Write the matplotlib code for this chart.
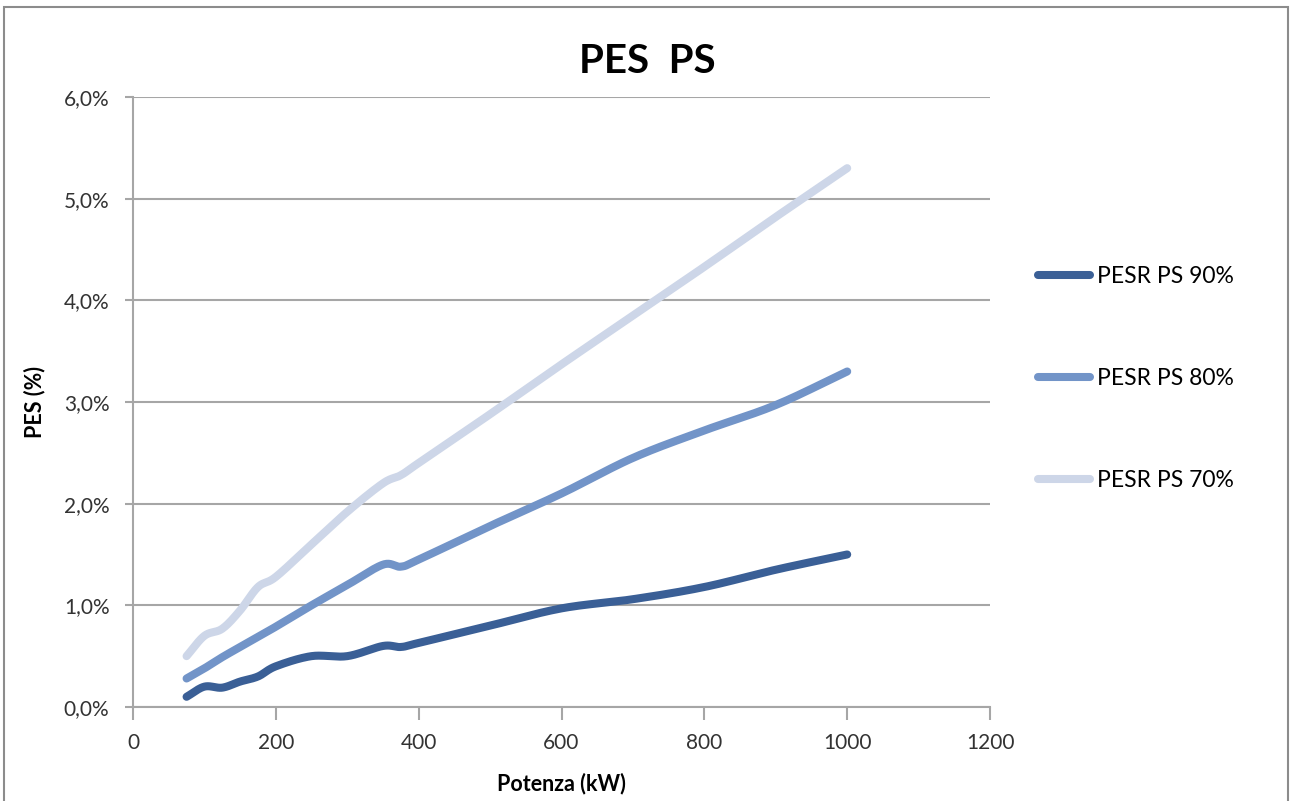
import numpy as np
import matplotlib
matplotlib.use("Agg")
import matplotlib.pyplot as plt
from matplotlib.patches import Rectangle
from matplotlib.ticker import FuncFormatter, MultipleLocator

# Potenza (kW) and PES (%) for three part-load levels
potenza = [75, 100, 125, 150, 175, 200, 250, 300, 350, 375, 400, 500, 600, 700, 800, 900, 1000]
pes_90 = [0.10, 0.20, 0.19, 0.25, 0.30, 0.40, 0.50, 0.50, 0.60, 0.59, 0.63, 0.80, 0.97, 1.06, 1.18, 1.35, 1.50]
pes_80 = [0.28, 0.38, 0.49, 0.59, 0.69, 0.79, 1.00, 1.20, 1.40, 1.38, 1.45, 1.78, 2.10, 2.45, 2.72, 2.97, 3.30]
pes_70 = [0.50, 0.70, 0.77, 0.95, 1.18, 1.28, 1.60, 1.92, 2.20, 2.28, 2.40, 2.88, 3.37, 3.85, 4.33, 4.82, 5.30]
labels = ["PESR PS 90%", "PESR PS 80%", "PESR PS 70%"]
colors = ["#3A5F96", "#7294C8", "#CDD6E8"]


def smooth(x, y, n=20):
    """Catmull-Rom curve through the points, like a smoothed spreadsheet line."""
    x = np.asarray(x, float)
    y = np.asarray(y, float)
    px = np.concatenate([[2 * x[0] - x[1]], x, [2 * x[-1] - x[-2]]])
    py = np.concatenate([[2 * y[0] - y[1]], y, [2 * y[-1] - y[-2]]])
    xs, ys = [], []
    t = np.linspace(0, 1, n, endpoint=False)
    for i in range(1, len(px) - 2):
        for arr, out in ((px, xs), (py, ys)):
            p0, p1, p2, p3 = arr[i - 1], arr[i], arr[i + 1], arr[i + 2]
            m1 = (p2 - p0) / 6.0
            m2 = (p3 - p1) / 6.0
            c1 = p1 + m1
            c2 = p2 - m2
            out.extend((1 - t) ** 3 * p1 + 3 * (1 - t) ** 2 * t * c1 + 3 * (1 - t) * t ** 2 * c2 + t ** 3 * p2)
    xs.append(x[-1])
    ys.append(y[-1])
    return np.array(xs), np.array(ys)


plt.rcParams["font.family"] = ["Lato", "DejaVu Sans"]

fig = plt.figure(figsize=(12.94, 8.01), dpi=100)
fig.patch.set_facecolor("white")
fig.patches.append(Rectangle((0.003, -0.05), 0.992, 1.041, transform=fig.transFigure,
                             fill=False, edgecolor="#8c8c8c", linewidth=1.5))

ax = fig.add_axes([0.1028, 0.1174, 0.6623, 0.7615])

grid_c = "#a6a6a6"
for series, lab, col in zip([pes_90, pes_80, pes_70], labels, colors):
    sx, sy = smooth(potenza, series)
    ax.plot(sx, sy, color=col, linewidth=5.8, solid_capstyle="round",
            solid_joinstyle="round", label=lab, zorder=3)

ax.set_xlim(0, 1200)
ax.set_ylim(0, 6)
ax.xaxis.set_major_locator(MultipleLocator(200))
ax.yaxis.set_major_locator(MultipleLocator(1))
ax.yaxis.set_major_formatter(FuncFormatter(lambda v, p: f"{v:.1f}%".replace(".", ",")))
ax.grid(axis="y", color=grid_c, linewidth=1.5, zorder=1)
ax.set_axisbelow(True)
for s in ("top", "right"):
    ax.spines[s].set_visible(False)
for s in ("left", "bottom"):
    ax.spines[s].set_color(grid_c)
    ax.spines[s].set_linewidth(1.5)
ax.tick_params(axis="x", direction="out", length=9, width=1.5, color=grid_c,
               labelsize=15, labelcolor="#333333", pad=10)
ax.tick_params(axis="y", direction="out", length=6, width=1.5, color=grid_c,
               labelsize=15, labelcolor="#333333", pad=11)

ax.set_xlabel("Potenza (kW)", fontsize=15.5, fontweight="bold", labelpad=14)
ax.set_ylabel("PES (%)", fontsize=15.5, fontweight="bold", labelpad=13)
fig.text(0.5, 0.923, "PES  PS", ha="center", va="center", fontsize=29, fontweight="bold")

ax.legend(loc="center left", bbox_to_anchor=(1.045, 0.538), frameon=False, fontsize=16.5,
          handlelength=2.3, handletextpad=0.3, labelspacing=3.53, borderaxespad=0)

fig.savefig("out.png", dpi=100, facecolor="white")
